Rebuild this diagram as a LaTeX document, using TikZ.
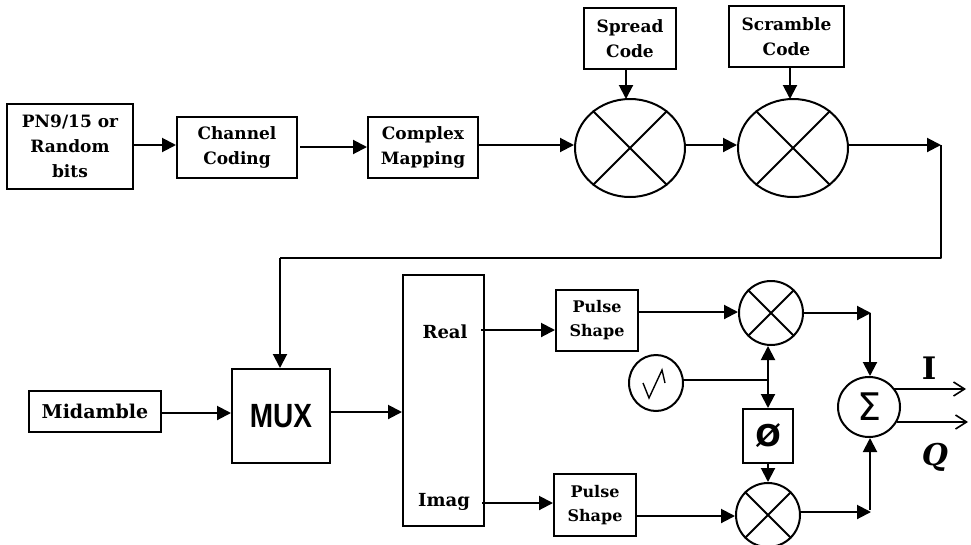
\documentclass[tikz,border=0pt]{standalone}
\usepackage{fontspec}
\setmainfont{DejaVu Serif}
\newfontfamily\muxfont{Liberation Sans}
\newfontfamily\symfont{DejaVu Sans}
\usetikzlibrary{arrows.meta,shapes.geometric,calc}
\tikzset{
  block/.style={draw,line width=2pt,inner sep=0pt,align=center,font=\fontsize{17}{25}\selectfont\bfseries},
  smallblock/.style={block,font=\fontsize{16}{24}\selectfont\bfseries},
  round/.style={draw,line width=2pt,ellipse,inner sep=0pt},
  label/.style={font=\fontsize{18}{24}\selectfont\bfseries,inner sep=0pt},
  conn/.style={line width=2pt,-{Triangle[length=14pt,width=14pt]}},
  wire/.style={line width=2pt},
  outarrow/.style={line width=1.6pt,-{Straight Barb[length=11pt,width=14pt,line width=1.6pt]}},
  crossline/.style={line width=1.8pt},
}
\newcommand{\blk}[7][block]{\node[#1,minimum width=#4pt-#2pt,minimum height=#5pt-#3pt] (#6) at ({(#2+#4)/2},{(#3+#5)/2}) {#7};}
\newcommand{\mixer}[5]{\node[round,minimum width=#4pt,minimum height=#5pt] (#1) at (#2,#3) {};
  \draw[crossline] (#1.45)--(#1.225) (#1.135)--(#1.315);}
\begin{document}
\begin{tikzpicture}[x=1pt,y=-1pt]
\useasboundingbox (0,0) rectangle (971,544);
\fill[white] (0,0) rectangle (971,544);
% blocks
\blk{7}{104}{133}{189}{pn}{PN9/15 or\\Random\\bits}
\blk{177}{117}{297}{178}{chan}{Channel\\Coding}
\blk{368}{117}{478}{178}{cplx}{Complex\\Mapping}
\blk{584}{8}{676}{69}{spread}{Spread\\Code}
\blk{729}{6}{844}{67}{scram}{Scramble\\Code}
\node[block,minimum width=132pt,minimum height=41pt,font=\fontsize{19}{24}\selectfont\bfseries] (mid) at (95,411.5) {Midamble};
\node[block,minimum width=98pt,minimum height=94pt,font=\muxfont\fontsize{28}{28}\selectfont\bfseries] (mux) at (281,416) {\scalebox{1}[1.2]{MUX}};
\node[block,minimum width=81pt,minimum height=251pt] (split) at (443.5,400.5) {};
\node[label,anchor=center] (real) at (445,332) {Real};
\node[label,anchor=center] (imag) at (444,502) {Imag};
\blk[smallblock]{556}{290}{638}{351}{ps1}{Pulse\\Shape}
\blk[smallblock]{554}{474}{636}{536}{ps2}{Pulse\\Shape}
\node[block,minimum width=50pt,minimum height=54pt,font=\symfont\fontsize{30}{30}\selectfont\bfseries] (phase) at (768,436) {Ø};
% mixers
\mixer{m1}{630}{148}{110}{98}
\mixer{m2}{793}{148}{110}{98}
\mixer{m3}{771}{313}{64}{64}
\mixer{m4}{768}{515}{64}{64}
% oscillator and sum
\node[round,minimum width=54pt,minimum height=56pt] (osc) at (656,383) {};
\draw[line width=1.4pt] ($(osc.center)+(-13,0)$) -- ++(6,15) -- ++(13,-28) -- ++(3,13);
\node[round,minimum width=62pt,minimum height=60pt,font=\symfont\fontsize{38}{38}\selectfont] (sum) at (869,407) {Σ};
% connectors
\coordinate (top1) at (941,145);
\coordinate (fb) at (941,258);
\coordinate (drop) at (280,258);
\coordinate (branch) at (768,380);
\coordinate (c3) at (871,313);
\coordinate (c4) at (871,512);
\coordinate (i) at (966,389);
\coordinate (q) at (968,422);
\draw[conn] (pn.east |- 0,145) -- (chan.west |- 0,145);
\draw[conn] (300,147) -- (cplx.west |- 0,147);
\draw[conn] (cplx.east |- 0,145) -- (m1.west |- 0,145);
\draw[conn] (m1.east |- 0,145) -- (m2.west |- 0,145);
\draw[conn] (m2.east |- 0,145) -- (top1);
\draw[conn] (626,69) -- (626,99);
\draw[conn] (790,67) -- (790,99);
\draw[wire,line join=round] (top1) -- (fb) -- (drop);
\draw[conn] (drop) -- (drop |- mux.north);
\draw[conn] (mid.east |- 0,413) -- (mux.west |- 0,413);
\draw[conn] (mux.east |- 0,412) -- (split.west |- 0,412);
\draw[conn] (481,330) -- (ps1.west |- 0,330);
\draw[conn] (482,503) -- (ps2.west |- 0,503);
\draw[conn] (ps1.east |- 0,312) -- (m3.west |- 0,312);
\draw[conn] (ps2.east |- 0,516) -- (m4.west |- 0,516);
\draw[conn] (m3.east) -- (c3);
\draw[conn] (870,313) -- (sum.north -| 870,0);
\draw[conn] (m4.east |- 0,512) -- (c4);
\draw[conn] (870,510) -- (sum.south -| 870,0);
\draw[wire] (osc.east |- branch) -- (branch);
\draw[conn] (branch) -- (m3.south -| branch);
\draw[conn] (branch) -- (phase.north);
\draw[conn] (phase.south) -- (m4.north);
\draw[outarrow] (sum.east |- 0,389) ++(-7,0) -- (i);
\draw[outarrow] (sum.east |- 0,422) ++(-4,0) -- (q);
\node[inner sep=0pt,font=\fontsize{31}{31}\selectfont\bfseries] (ilab) at (929,368) {I};
\node[inner sep=0pt,font=\fontsize{30}{30}\selectfont\bfseries\itshape] (qlab) at (935,457) {Q};
\end{tikzpicture}
\end{document}
